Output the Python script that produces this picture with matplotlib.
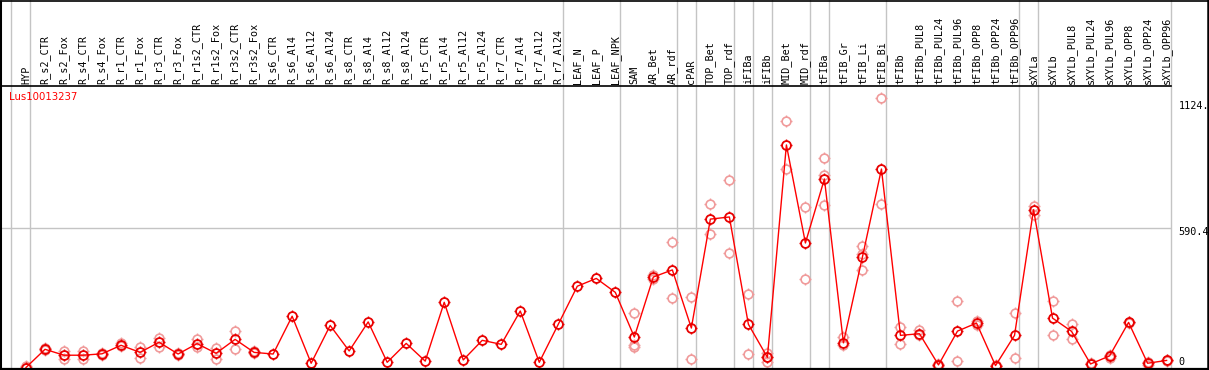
import matplotlib
matplotlib.use("Agg")
import matplotlib.pyplot as plt
from matplotlib.path import Path
import numpy as np

# ---------------- data ----------------
categories = [
    "HYP", "R_s2_CTR", "R_s2_Fox", "R_s4_CTR", "R_s4_Fox", "R_r1_CTR", "R_r1_Fox",
    "R_r3_CTR", "R_r3_Fox", "R_r1s2_CTR", "R_r1s2_Fox", "R_r3s2_CTR", "R_r3s2_Fox",
    "R_s6_CTR", "R_s6_Al4", "R_s6_Al12", "R_s6_Al24", "R_s8_CTR", "R_s8_Al4",
    "R_s8_Al12", "R_s8_Al24", "R_r5_CTR", "R_r5_Al4", "R_r5_Al12", "R_r5_Al24",
    "R_r7_CTR", "R_r7_Al4", "R_r7_Al12", "R_r7_Al24", "LEAF_N", "LEAF_P", "LEAF_NPK",
    "SAM", "AR_Bet", "AR_rdf", "cPAR", "TOP_Bet", "TOP_rdf", "iFIBa", "iFIBb",
    "MID_Bet", "MID_rdf", "tFIBa", "tFIB_Gr", "tFIB_Li", "tFIB_Bi", "tFIBb",
    "tFIBb_PUL8", "tFIBb_PUL24", "tFIBb_PUL96", "tFIBb_OPP8", "tFIBb_OPP24",
    "tFIBb_OPP96", "sXYLa", "sXYLb", "sXYLb_PUL8", "sXYLb_PUL24", "sXYLb_PUL96",
    "sXYLb_OPP8", "sXYLb_OPP24", "sXYLb_OPP96",
]

mean_values = [
    0, 77, 52, 52, 58, 94, 64, 107, 57, 101, 60, 119, 64,
    57, 217, 18, 178, 70, 193, 22, 102, 27, 276, 32, 115, 98, 239, 22, 183,
    344, 377, 318, 129, 383, 413, 167, 628, 637, 183, 43, 942, 527, 798,
    105, 468, 840, 136, 143, 11, 154, 188, 8, 136, 668, 209, 153, 15, 49,
    191, 18, 30,
]

replicates = [
    [2, 8], [82, 72], [68, 35], [68, 35], [62, 54], [104, 90], [88, 41],
    [126, 85], [60, 54], [119, 88], [81, 35], [154, 80], [68, 60],
    [], [], [], [], [], [], [], [], [], [], [], [], [], [], [], [],
    [], [], [],
    [229, 97, 85], [390, 376], [531, 294], [298, 36], [692, 565], [793, 485],
    [310, 57], [61, 23, 45], [1042, 839], [678, 374], [887, 813, 688],
    [128, 97], [514, 482, 411], [1140, 691], [171, 101], [157, 136],
    [14, 8], [280, 26], [196, 180], [10, 6], [229, 40], [682, 647],
    [280, 136], [185, 122], [17, 13], [55, 40], [194, 188], [24, 12], [32, 28],
]

# sizes of consecutive sample groups (separated by grey lines)
group_sizes = [1, 28, 3, 3, 1, 2, 1, 1, 2, 1, 3, 7, 1, 7]

gene_name = "Lus10013237"
y_tick_values = [1124.0, 590.4, 0]
y_tick_labels = ["1124.", "590.4", "0"]

# ---------------- layout ----------------
W, H = 1209, 370
fig = plt.figure(figsize=(W / 100, H / 100), dpi=100)

px0, step = 26.0, 19.01            # pixel position of first category and spacing
xlim = (-px0 / step, (W - px0) / step)
top_px, bot_px = 85, 368
zero_px, ref_px, ref_val = 367.5, 228.0, 590.4
scale = ref_val / (zero_px - ref_px)
ylim = ((zero_px - bot_px) * scale, (zero_px - top_px) * scale)

ax = fig.add_axes([0, (H - bot_px) / H, 1, (bot_px - top_px) / H])
ax.set_xlim(*xlim)
ax.set_ylim(*ylim)
ax.axis("off")

hx = fig.add_axes([0, (H - top_px) / H, 1, top_px / H])
hx.set_xlim(*xlim)
hx.set_ylim(0, 1)
hx.axis("off")

n = len(categories)
x = np.arange(n)
off = 4.3 / step
bounds = [-1] + list(np.cumsum(group_sizes) - 1)
right_edge = bounds[-1] + off

grey = "#c4c4c4"
for b in bounds:
    ax.axvline(b + off, color=grey, lw=1.0, zorder=1)
    hx.axvline(b + off, color=grey, lw=1.0, zorder=1)

ax.hlines(590.4, xlim[0], right_edge, color=grey, lw=1.0, zorder=1)

# small outward ticks around each circle ("gear" look)
r0 = 0.68
tick_path = Path(
    [(0, r0), (0, 1), (0, -r0), (0, -1), (r0, 0), (1, 0), (-r0, 0), (-1, 0)],
    [Path.MOVETO, Path.LINETO] * 4,
)


def gear(xs, ys, color, lw, ms, z):
    ax.plot(xs, ys, linestyle="none", marker=tick_path, markersize=ms * 1.42,
            markeredgecolor=color, markerfacecolor="none", markeredgewidth=1.0,
            zorder=z, clip_on=False)
    ax.plot(xs, ys, linestyle="none", marker="o", markersize=ms,
            markerfacecolor="none", markeredgecolor=color, markeredgewidth=lw,
            zorder=z, clip_on=False)


# replicates
rx = [i for i, r in enumerate(replicates) for _ in r]
ry = [v for r in replicates for v in r]
gear(rx, ry, "#f09a9a", 1.2, 6.3, 2)

# mean line
ax.plot(x, mean_values, color="#ff0000", lw=1.0, zorder=3, clip_on=False)
gear(x, mean_values, "#e80000", 1.3, 6.4, 5)

# header labels
mono = "DejaVu Sans Mono"
for i, c in enumerate(categories):
    hx.text(i, 0.015, c, rotation=90, ha="center", va="bottom",
            fontsize=7.3, family=mono, color="black")

# gene title
fig.text(9 / W, 1 - 97 / H, gene_name, color="#ff0000", fontsize=7.3,
         family="DejaVu Sans", ha="left", va="center")

# right-side value labels
for v, lab in zip(y_tick_values, y_tick_labels):
    ypx = zero_px - v / scale + (4 if v > 0 else -5.5)
    fig.text(1178.5 / W, 1 - ypx / H, lab, fontsize=7.3, family=mono,
             ha="left", va="center", color="black")

# frame / separators in pixel space
ov = fig.add_axes([0, 0, 1, 1], facecolor="none")
ov.set_xlim(0, W)
ov.set_ylim(H, 0)
ov.axis("off")
ov.plot([0, 0], [0, 369], color="black", lw=2.2, solid_capstyle="butt")
ov.plot([0, W], [0.5, 0.5], color="black", lw=1.2)
ov.plot([0, W], [368.8, 368.8], color="black", lw=1.6)
ov.plot([W - 1.2, W - 1.2], [0, 370], color="black", lw=1.8)
ov.plot([0, px0 + step * right_edge], [85.5, 85.5], color="black", lw=1.2)

fig.savefig("out.png", dpi=100)
